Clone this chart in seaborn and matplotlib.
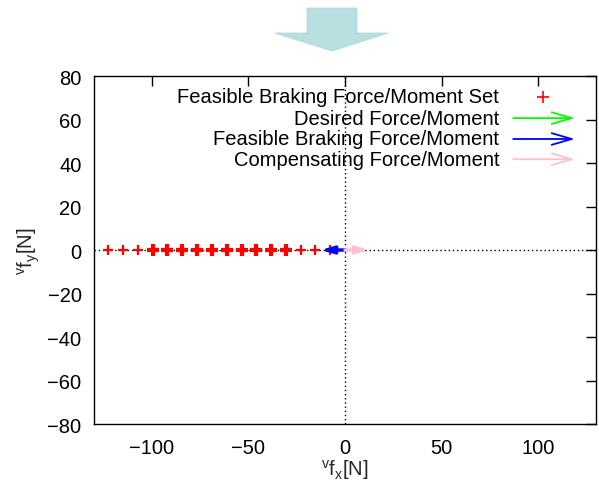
import numpy as np
import matplotlib
matplotlib.use("Agg")
import matplotlib.pyplot as plt
from matplotlib.patches import Polygon
import seaborn as sns

# feasible braking force set (x positions along the fx axis, fy = 0)
set_x_thin = [-122.8, -115.1, -107.4, -23.0, -15.3, -7.7]
set_x_bold = [-99.7, -92.0, -84.3, -76.6, -69.0, -61.3, -53.6, -46.0, -38.3, -30.6]
# force vectors (fx, fy)
desired = (0.0, 0.0)
feasible = (-12.5, 0.0)
compensating = (12.5, 0.0)

legend_labels = ["Feasible Braking Force/Moment Set", "Desired Force/Moment",
                 "Feasible Braking Force/Moment", "Compensating Force/Moment"]
x_ticks = [-100, -50, 0, 50, 100]
y_ticks = [-80, -60, -40, -20, 0, 20, 40, 60, 80]

sns.set_theme(style="white")
plt.rcParams["font.family"] = ["Liberation Sans", "DejaVu Sans"]
plt.rcParams["mathtext.fontset"] = "custom"
plt.rcParams["mathtext.rm"] = "Liberation Sans"
plt.rcParams["mathtext.it"] = "Liberation Sans"

FS = 14.5

fig = plt.figure(figsize=(5.99, 4.81), dpi=100)
ax = fig.add_axes([0.157, 0.1164, 0.838, 0.7235])

# zero axes
ax.axhline(0, color="black", lw=1, ls=(0, (1, 2)), zorder=1)
ax.axvline(0, color="black", lw=1, ls=(0, (1, 2)), zorder=1)

# feasible set
sns.scatterplot(x=set_x_thin, y=np.zeros(len(set_x_thin)), marker="+", color="red",
                s=55, linewidth=1.6, ax=ax, zorder=3)
sns.scatterplot(x=set_x_bold, y=np.zeros(len(set_x_bold)), marker="+", color="red",
                s=65, linewidth=3.0, ax=ax, zorder=3)

# force arrows
for vec, col in [(desired, "lime"), (feasible, "blue"), (compensating, "pink")]:
    if vec[0] == 0 and vec[1] == 0:
        continue
    ax.annotate("", xy=vec, xytext=(0, 0),
                arrowprops=dict(arrowstyle="-|>,head_length=0.6,head_width=0.18",
                                color=col, lw=2.4, shrinkA=0, shrinkB=0), zorder=4)

ax.set_xlim(-130, 130)
ax.set_ylim(-80, 80)
ax.set_xticks(x_ticks)
ax.set_yticks(y_ticks)
ax.tick_params(direction="in", length=7, width=1, top=True, right=True,
               labelsize=FS, colors="black")
ax.tick_params(axis="x", pad=10)
ax.tick_params(axis="y", pad=9)
for s in ax.spines.values():
    s.set_color("black")
    s.set_linewidth(1)
ax.set_xlabel(r"$^{\mathrm{v}}\mathrm{f}_{\mathrm{x}}$[N]", fontsize=FS, labelpad=0)
ax.set_ylabel(r"$^{\mathrm{v}}\mathrm{f}_{\mathrm{y}}$[N]", fontsize=FS, labelpad=4)

# legend (gnuplot style: right aligned text, sample on the right)
rows = [0.940, 0.879, 0.819, 0.761]
styles = [None, "lime", "blue", "pink"]
for lab, yy, col in zip(legend_labels, rows, styles):
    ax.text(0.807, yy, lab, transform=ax.transAxes, ha="right", va="center",
            fontsize=FS, color="black")
    if col is None:
        ax.plot([0.894], [yy], marker="+", color="red", ms=8, mew=1.2,
                transform=ax.transAxes)
    else:
        ax.annotate("", xy=(0.958, yy), xytext=(0.835, yy),
                    xycoords="axes fraction", textcoords="axes fraction",
                    arrowprops=dict(arrowstyle="->,head_length=1.2,head_width=0.35",
                                    color=col, lw=1.3, shrinkA=0, shrinkB=0))

# big down arrow above the plot
pts = [(307, 9), (357, 9), (357, 34), (388, 34), (332, 52), (275, 34), (307, 34)]
poly = Polygon([(x / 599, 1 - y / 481) for x, y in pts], closed=True,
               facecolor="#b9dfe0", edgecolor="#a9d3d5", lw=0.5,
               transform=fig.transFigure)
fig.patches.append(poly)

fig.savefig("out.png", dpi=100)
